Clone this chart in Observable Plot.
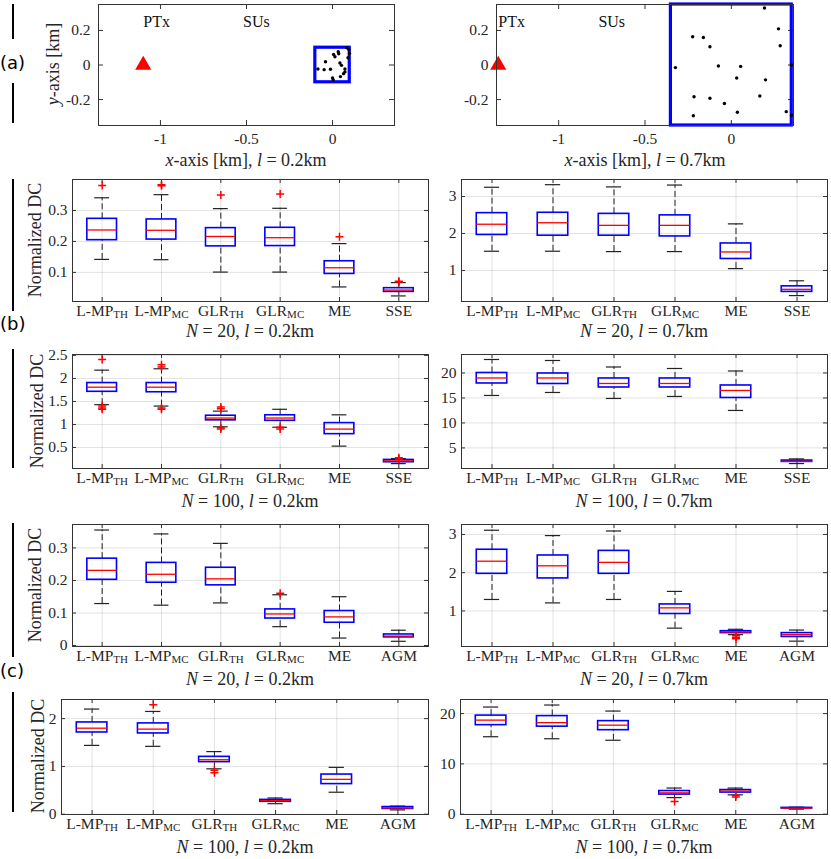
<!DOCTYPE html>
<html><head><meta charset="utf-8">
<script src="https://cdn.jsdelivr.net/npm/d3@7"></script>
<script src="https://cdn.jsdelivr.net/npm/@observablehq/plot@0.6"></script>
<style>
body{margin:0;background:#fff;}
#fig{position:relative;width:831px;height:859px;overflow:hidden;font-family:"Liberation Serif",serif;color:#262626;}
.abs{position:absolute;white-space:nowrap;}
.tag{font-family:"DejaVu Sans",sans-serif;font-size:18px;color:#000;}
.vline{position:absolute;width:1.5px;background:#000;left:12px;}
.sub{font-size:18px;line-height:1;transform:translate(-50%,-50%);}
.ylab{font-size:18px;line-height:1;transform:translate(-50%,-50%) rotate(-90deg);}
</style></head><body><div id="fig"></div><script>
// ---------- data ----------
const catsB = ["L-MP_TH","L-MP_MC","GLR_TH","GLR_MC","ME","SSE"];
const catsC = ["L-MP_TH","L-MP_MC","GLR_TH","GLR_MC","ME","AGM"];

// (a) layouts [km]
const ptx02X = [-1.1],  ptx02Y = [0];
const ptx07X = [-1.35], ptx07Y = [0];
const su02X = [0.083,0.099,0.033,0.006,0.014,0.090,-0.041,0.043,0.052,-0.085,-0.049,-0.012,0.072,0.072,0.064,0.046,0.000,0.004,0.095,0.036];
const su02Y = [0.100,0.067,0.077,0.061,0.048,0.042,0.019,0.012,-0.002,-0.023,-0.027,-0.025,-0.023,-0.040,-0.050,-0.067,-0.075,-0.086,0.090,0.065];
const su07X = [0.192,0.273,-0.224,-0.162,0.283,-0.124,-0.324,-0.075,0.054,0.349,0.031,0.198,-0.216,-0.124,0.165,-0.040,0.035,-0.220,0.318,0.349];
const su07Y = [0.330,0.209,0.163,0.159,0.111,0.106,-0.015,-0.006,-0.008,0.000,-0.075,-0.086,-0.184,-0.192,-0.179,-0.223,-0.273,-0.294,-0.270,-0.290];
const half02 = [0.1], half07 = [0.35];

// (b) N = 20, l = 0.2 km
const b1L_hi  = [0.341,0.351,0.306,0.307,0.193,0.067];
const b1L_q3  = [0.273,0.271,0.243,0.244,0.136,0.049];
const b1L_med = [0.237,0.236,0.216,0.212,0.115,0.043];
const b1L_q1  = [0.204,0.206,0.184,0.185,0.095,0.037];
const b1L_lo  = [0.142,0.141,0.101,0.101,0.053,0.024];
const b1L_out = [[0.381],[0.383,0.380],[0.350],[0.353],[0.215],[0.071,0.069]];
// (b) N = 20, l = 0.7 km
const b1R_hi  = [3.25,3.32,3.26,3.31,2.26,0.72];
const b1R_q3  = [2.55,2.56,2.53,2.49,1.73,0.57];
const b1R_med = [2.25,2.29,2.22,2.22,1.50,0.49];
const b1R_q1  = [1.96,1.94,1.94,1.92,1.31,0.42];
const b1R_lo  = [1.52,1.52,1.51,1.51,1.05,0.32];
const b1R_out = [[],[],[],[],[],[]];
// (b) N = 100, l = 0.2 km
const b2L_hi  = [2.18,2.21,1.29,1.33,1.21,0.26];
const b2L_q3  = [1.90,1.90,1.19,1.20,1.03,0.23];
const b2L_med = [1.81,1.81,1.14,1.14,0.90,0.21];
const b2L_q1  = [1.71,1.70,1.09,1.08,0.79,0.18];
const b2L_lo  = [1.43,1.40,0.95,0.94,0.53,0.15];
const b2L_out = [[2.41,1.40,1.36,1.33],[2.30,2.25,1.36,1.33],[1.38,1.34,0.93,0.90],[0.94,0.90],[],[0.28,0.25]];
// (b) N = 100, l = 0.7 km
const b2R_hi  = [22.7,22.5,21.2,20.9,20.4,2.80];
const b2R_q3  = [20.0,19.9,18.9,18.9,17.5,2.47];
const b2R_med = [19.0,19.0,17.9,17.9,16.5,2.33];
const b2R_q1  = [17.9,17.8,17.1,17.1,15.0,2.20];
const b2R_lo  = [15.5,16.1,14.9,15.3,12.5,1.87];
const b2R_out = [[],[],[],[],[],[]];
// (c) N = 20, l = 0.2 km
const c1L_hi  = [0.355,0.343,0.314,0.156,0.150,0.047];
const c1L_q3  = [0.267,0.254,0.239,0.111,0.106,0.034];
const c1L_med = [0.231,0.219,0.205,0.097,0.088,0.029];
const c1L_q1  = [0.202,0.193,0.185,0.083,0.070,0.025];
const c1L_lo  = [0.129,0.124,0.131,0.058,0.023,0.013];
const c1L_out = [[],[],[],[0.161],[],[]];
// (c) N = 20, l = 0.7 km
const c1R_hi  = [3.11,2.97,3.09,1.51,0.52,0.50];
const c1R_q3  = [2.60,2.45,2.57,1.17,0.47,0.42];
const c1R_med = [2.30,2.18,2.27,1.08,0.45,0.38];
const c1R_q1  = [1.97,1.85,1.97,0.92,0.42,0.32];
const c1R_lo  = [1.30,1.21,1.30,0.55,0.38,0.21];
const c1R_out = [[],[],[],[],[0.36,0.31,0.27],[]];
// (c) N = 100, l = 0.2 km
const c2L_hi  = [2.20,2.15,1.31,0.34,0.98,0.17];
const c2L_q3  = [1.92,1.90,1.20,0.30,0.83,0.15];
const c2L_med = [1.80,1.78,1.14,0.285,0.73,0.13];
const c2L_q1  = [1.71,1.69,1.09,0.26,0.63,0.11];
const c2L_lo  = [1.44,1.42,0.95,0.22,0.46,0.09];
const c2L_out = [[],[2.29],[0.92,0.87],[],[],[]];
// (c) N = 100, l = 0.7 km
const c2R_hi  = [21.3,21.7,20.5,5.20,5.20,1.40];
const c2R_q3  = [19.6,19.5,18.5,4.60,4.80,1.26];
const c2R_med = [18.7,18.2,17.7,4.25,4.60,1.20];
const c2R_q1  = [17.7,17.4,16.7,3.90,4.30,1.13];
const c2R_lo  = [15.4,15.0,14.7,3.30,3.85,1.00];
const c2R_out = [[],[],[],[2.5],[3.7,3.4],[]];

// ---------- drawing ----------
const fig = document.getElementById("fig");
const FONT = '"Liberation Serif", serif';
const AX = "#333";
const plusSym = {draw(ctx, size){ const r = Math.sqrt(size/Math.PI); ctx.moveTo(-r,0); ctx.lineTo(r,0); ctx.moveTo(0,-r); ctx.lineTo(0,r);} };

function place(svg, left, top){
  svg.style.position = "absolute"; svg.style.left = left+"px"; svg.style.top = top+"px";
  fig.appendChild(svg);
}
function html(cls, left, top, content){
  const d = document.createElement("div"); d.className = "abs "+cls;
  d.style.left = left+"px"; d.style.top = top+"px"; d.innerHTML = content; fig.appendChild(d); return d;
}
function innerTicks(xd, yd, W, H, xt, yt, len){
  const dx = len*(xd[1]-xd[0])/W, dy = len*(yd[1]-yd[0])/H;
  const o = {stroke: AX, strokeWidth: 1};
  return [
    Plot.ruleY(yt, {y: d=>d, x1: xd[0], x2: xd[0]+dx, ...o}),
    Plot.ruleY(yt, {y: d=>d, x1: xd[1]-dx, x2: xd[1], ...o}),
    Plot.ruleX(xt, {x: d=>d, y1: yd[0], y2: yd[0]+dy, ...o}),
    Plot.ruleX(xt, {x: d=>d, y1: yd[1]-dy, y2: yd[1], ...o})
  ];
}
function subscriptify(svg){
  svg.querySelectorAll("text").forEach(t=>{
    const s = t.textContent, k = s.indexOf("_");
    if (k < 0 || t.children.length) return;
    t.textContent = s.slice(0,k);
    const ts = document.createElementNS("http://www.w3.org/2000/svg","tspan");
    ts.setAttribute("font-size","11px"); ts.setAttribute("dy","0.2em"); ts.textContent = s.slice(k+1);
    t.appendChild(ts);
  });
}

const ML=50, MR=12, MT=10, MB=30;

function scatterPanel(box, xd, yd, ptxX, ptxY, suX, suY, half, ptxLabelX, suLabelX){
  const [l,t,r,b] = box, W=r-l, H=b-t;
  const xt=[-1,-0.5,0], yt=[-0.2,0,0.2];
  const sq = half.map(h=>({x1:-h,x2:h,y1:-h,y2:h}));
  const pts = suX.map((x,i)=>({x, y:suY[i]}));
  const p = ptxX.map((x,i)=>({x, y:ptxY[i]}));
  const svg = Plot.plot({
    width: W+ML+MR, height: H+MT+MB, marginLeft: ML, marginRight: MR, marginTop: MT, marginBottom: MB,
    x:{domain:xd}, y:{domain:yd},
    style:{fontFamily:FONT, fontSize:"15.5px", color:"#262626", background:"transparent", overflow:"visible"},
    marks:[
      Plot.axisX(xt, {tickSize:0, tickPadding:7, tickFormat:d=>String(d), label:null}),
      Plot.axisY(yt, {tickSize:0, tickPadding:8, tickFormat:d=>String(d), label:null}),
      ...innerTicks(xd, yd, W, H, xt, yt, 5),
      Plot.rect(sq, {x1:"x1",x2:"x2",y1:"y1",y2:"y2", fill:"none", stroke:"#0000ff", strokeWidth:3.2}),
      Plot.dot(pts, {x:"x", y:"y", r:1.7, fill:"#000"}),
      Plot.dot(p, {x:"x", y:"y", symbol:"triangle", r:6, fill:"#ff0000"}),
      Plot.text(["PTx"], {x:ptxLabelX, y:0.25, text:d=>d, textAnchor:"start", fontSize:16, fill:"#111"}),
      Plot.text(["SUs"], {x:suLabelX, y:0.25, text:d=>d, textAnchor:"start", fontSize:16, fill:"#111"}),
      Plot.frame({stroke:AX})
    ]
  });
  place(svg, l-ML, t-MT);
}

function boxPanel(box, cats, yd, yt, lo, q1, med, q3, hi, out){
  const [l,t,r,b] = box, W=r-l, H=b-t;
  const xd=[0.5,6.5], xt=[1,2,3,4,5,6];
  const rows = cats.map((c,i)=>({x:i+1, lo:lo[i], q1:q1[i], med:med[i], q3:q3[i], hi:hi[i]}));
  const outs = out.flatMap((a,i)=>a.map(v=>({x:i+1, y:v})));
  const svg = Plot.plot({
    width: W+ML+MR, height: H+MT+MB, marginLeft: ML, marginRight: MR, marginTop: MT, marginBottom: MB,
    x:{domain:xd}, y:{domain:yd},
    style:{fontFamily:FONT, fontSize:"15.5px", color:"#262626", background:"transparent", overflow:"visible"},
    marks:[
      Plot.gridX(xt, {stroke:"#262626", strokeOpacity:0.13}),
      Plot.gridY(yt, {stroke:"#262626", strokeOpacity:0.13}),
      Plot.axisX(xt, {tickSize:0, tickPadding:3, tickFormat:i=>cats[i-1], label:null}),
      Plot.axisY(yt, {tickSize:0, tickPadding:5, tickFormat:d=>String(d), label:null}),
      ...innerTicks(xd, yd, W, H, xt, yt, 4),
      Plot.ruleX(rows, {x:"x", y1:"q3", y2:"hi", stroke:"#222", strokeDasharray:"6,3"}),
      Plot.ruleX(rows, {x:"x", y1:"lo", y2:"q1", stroke:"#222", strokeDasharray:"6,3"}),
      Plot.ruleY(rows, {y:"hi", x1:d=>d.x-0.125, x2:d=>d.x+0.125, stroke:"#222", strokeWidth:1.2}),
      Plot.ruleY(rows, {y:"lo", x1:d=>d.x-0.125, x2:d=>d.x+0.125, stroke:"#222", strokeWidth:1.2}),
      Plot.rect(rows, {x1:d=>d.x-0.25, x2:d=>d.x+0.25, y1:"q1", y2:"q3", fill:"none", stroke:"#0000ff", strokeWidth:1.6}),
      Plot.ruleY(rows, {y:"med", x1:d=>d.x-0.25, x2:d=>d.x+0.25, stroke:"#ff0000", strokeWidth:1.3}),
      Plot.dot(outs, {x:"x", y:"y", symbol:plusSym, r:4, fill:"none", stroke:"#ff0000", strokeWidth:1.5}),
      Plot.frame({stroke:AX})
    ]
  });
  subscriptify(svg);
  place(svg, l-ML, t-MT);
}

// row (a)
scatterPanel([98,4,394,125], [-1.36,0.36], [-0.35,0.35], ptx02X, ptx02Y, su02X, su02Y, half02, -1.1, -0.52);
scatterPanel([496,4,793,125], [-1.36,0.36], [-0.35,0.35], ptx07X, ptx07Y, su07X, su07Y, half07, -1.35, -0.77);
html("sub", 246, 160, "<i>x</i>-axis [km], <i>l</i> = 0.2km");
html("sub", 645, 160, "<i>x</i>-axis [km], <i>l</i> = 0.7km");
html("ylab", 53, 64, "<i>y</i>-axis [km]");

// rows (b)
boxPanel([72,179,428,301], catsB, [0.006,0.4], [0.1,0.2,0.3], b1L_lo,b1L_q1,b1L_med,b1L_q3,b1L_hi,b1L_out);
boxPanel([461,179,827,301], catsB, [0.16,3.46], [1,2,3], b1R_lo,b1R_q1,b1R_med,b1R_q3,b1R_hi,b1R_out);
boxPanel([72,354,428,468], catsB, [0.044,2.52], [0.5,1,1.5,2,2.5], b2L_lo,b2L_q1,b2L_med,b2L_q3,b2L_hi,b2L_out);
boxPanel([461,354,827,468], catsB, [0.88,23.7], [5,10,15,20], b2R_lo,b2R_q1,b2R_med,b2R_q3,b2R_hi,b2R_out);
// rows (c)
boxPanel([72,524,428,646], catsC, [-0.003,0.372], [0,0.1,0.2,0.3], c1L_lo,c1L_q1,c1L_med,c1L_q3,c1L_hi,c1L_out);
boxPanel([461,524,827,646], catsC, [0.07,3.26], [1,2,3], c1R_lo,c1R_q1,c1R_med,c1R_q3,c1R_hi,c1R_out);
boxPanel([61,699,428,814], catsC, [-0.006,2.4], [0,1,2], c2L_lo,c2L_q1,c2L_med,c2L_q3,c2L_hi,c2L_out);
boxPanel([460,699,827,814], catsC, [-0.06,22.8], [0,10,20], c2R_lo,c2R_q1,c2R_med,c2R_q3,c2R_hi,c2R_out);

// subtitles
const subs = [[250,331,"20","0.2"],[644,331,"20","0.7"],[250,501,"100","0.2"],[644,501,"100","0.7"],
              [250,679,"20","0.2"],[644,679,"20","0.7"],[245,847,"100","0.2"],[644,847,"100","0.7"]];
subs.forEach(([x,y,n,l])=>html("sub", x, y, `<i>N</i> = ${n}, <i>l</i> = ${l}km`));
// y labels
[[35,240],[37,411],[35,585],[38,756]].forEach(([x,y])=>html("ylab", x, y, "Normalized DC"));
// panel tags and separators
html("tag", 0, 52, "(a)"); html("tag", 0, 313, "(b)"); html("tag", 0, 660, "(c)");
[[4,39],[83,123],[179,311],[349,468],[523,657],[692,812]].forEach(([a,b])=>{
  const d=document.createElement("div"); d.className="vline"; d.style.top=a+"px"; d.style.height=(b-a)+"px"; fig.appendChild(d);
});
</script></body></html>
